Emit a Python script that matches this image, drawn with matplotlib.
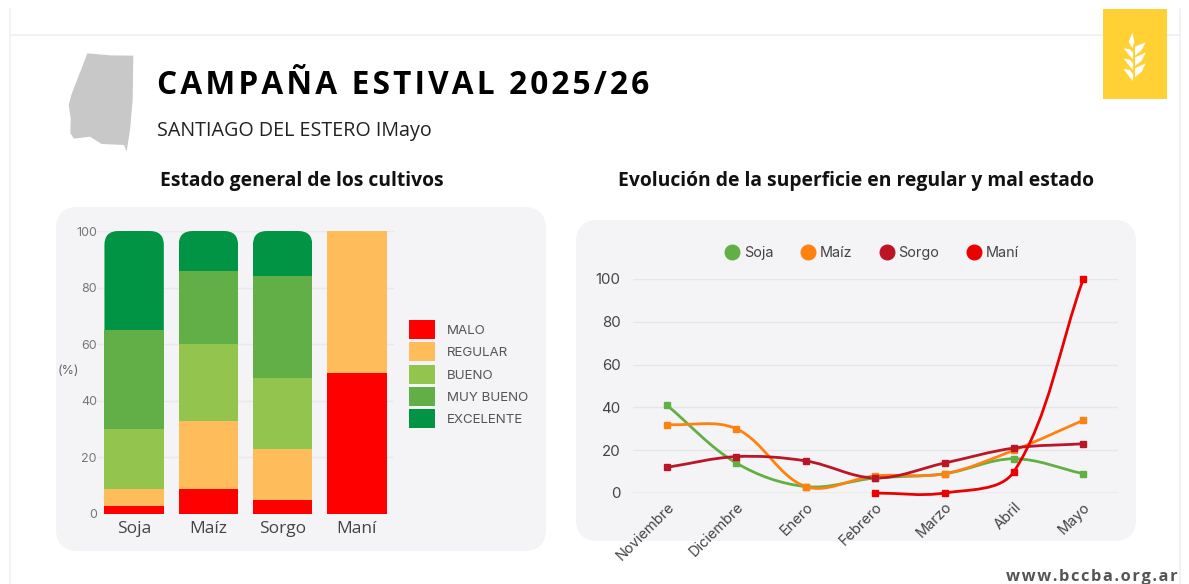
import numpy as np
import matplotlib
matplotlib.use('Agg')
import matplotlib.pyplot as plt
from matplotlib.lines import Line2D
from matplotlib.patches import FancyBboxPatch, Patch, PathPatch, Polygon, Rectangle
from matplotlib.path import Path
from matplotlib.transforms import IdentityTransform

W, H = 1189, 584

# stacked bars
cultivos = ['Soja', 'Maíz', 'Sorgo', 'Maní']
estados = ['MALO', 'REGULAR', 'BUENO', 'MUY BUENO', 'EXCELENTE']
malo = [3, 9, 5, 50]
regular = [6, 24, 18, 50]
bueno = [21, 27, 25, 0]
muy_bueno = [35, 26, 36, 0]
excelente = [35, 14, 16, 0]
colores_estado = ['#ff0000', '#ffbc5b', '#93c44e', '#62af48', '#009444']

# lines
meses = ['Noviembre', 'Diciembre', 'Enero', 'Febrero', 'Marzo', 'Abril', 'Mayo']
soja = [41, 14, 3, 7, 9, 16, 9]
maiz = [32, 30, 3, 8, 9, 20, 34]
sorgo = [12, 17, 15, 7, 14, 21, 23]
mani = [np.nan, np.nan, np.nan, 0, 0, 10, 100]
colores_linea = ['#62b045', '#ff8210', '#bc1626', '#ea0000']

TEXTO = ['Open Sans', 'DejaVu Sans']
EJES = 'Inter'


def pos(l, t, r, b):
    # pixel box to figure fractions
    return [l / W, 1 - b / H, (r - l) / W, (b - t) / H]


def curva(xs, ys, sx, sy, t=0.35):
    # spline through the points, control points weighted by pixel length of each segment
    p = [np.array((x, y)) for x, y in zip(xs, ys) if not np.isnan(y)]
    esc = np.array((sx, sy))
    sal = []
    ent = []
    for i, c in enumerate(p):
        a = p[max(i - 1, 0)]
        b = p[min(i + 1, len(p) - 1)]
        d0 = np.hypot(*((c - a) * esc))
        d1 = np.hypot(*((b - c) * esc))
        ent.append(c - t * d0 / (d0 + d1) * (b - a))
        sal.append(c + t * d1 / (d0 + d1) * (b - a))
    verts = [p[0]]
    codes = [Path.MOVETO]
    for i in range(len(p) - 1):
        verts += [sal[i], ent[i + 1], p[i + 1]]
        codes += [Path.CURVE4] * 3
    return Path(verts, codes)


fig = plt.figure(figsize=(W / 100, H / 100), dpi=100, facecolor='white')

# background layer in pixel coords
bg = fig.add_axes([0, 0, 1, 1], zorder=0)
bg.set_xlim(0, W)
bg.set_ylim(H, 0)
bg.axis('off')

bg.plot([10, 1180], [35, 35], color='#eef0f6', lw=1.2)
bg.plot([10, 10], [9, H], color='#eef0f6', lw=1.2)
bg.plot([1180, 1180], [9, H], color='#eef0f6', lw=1.2)

for l, t, r, b in [(56, 207, 546, 551), (576, 220, 1136, 541)]:
    bg.add_patch(FancyBboxPatch((l + 22, t + 22), r - l - 44, b - t - 44,
                                boxstyle='round,pad=22,rounding_size=22',
                                fc='#f4f4f7', ec='none'))

# province shape
mapa = np.array([(262, 160), (330, 166), (400, 167), (398, 300), (390, 390), (380, 455), (372, 435),
                 (305, 432), (270, 410), (222, 416), (211, 400), (212, 355), (206, 315),
                 (214, 285), (233, 235), (245, 205)]) / 3
bg.add_patch(Polygon(mapa, closed=True, fc='#c8c8c8', ec='none'))

# logo
bg.add_patch(Rectangle((1103, 9), 64, 90, fc='#ffd135', ec='none', zorder=3))
hojas = [[(247, 98), (253, 125), (247, 145), (236, 125)],
         [(255, 140), (287, 127), (275, 150), (255, 167)],
         [(255, 172), (287, 158), (275, 182), (255, 198)],
         [(255, 205), (287, 190), (275, 215), (255, 232)],
         [(248, 178), (221, 145), (240, 148), (250, 160)],
         [(248, 210), (221, 176), (240, 179), (250, 192)],
         [(248, 243), (220, 207), (240, 210), (250, 225)]]
for h in hojas:
    h = np.array(h) / 3 + [1050, 0]
    bg.add_patch(Polygon(h, closed=True, fc='white', ec='none', zorder=4))

HAIR = '\u200a'
bg.text(157, 86, HAIR.join('CAMPAÑA ESTIVAL 2025/26'), family=TEXTO, weight='bold', fontsize=22.75,
        color='black', va='center', ha='left')
bg.text(157, 131, 'SANTIAGO DEL ESTERO IMayo', family=TEXTO, fontsize=14.2,
        color='#222222', va='center', ha='left')
bg.text(301.5, 181, 'Estado general de los cultivos', family=TEXTO, weight='bold', fontsize=13.85,
        color='#111111', va='center', ha='center')
bg.text(856.5, 181, 'Evolución de la superficie en regular y mal estado', family=TEXTO, weight='bold',
        fontsize=13.85, color='#111111', va='center', ha='center')
bg.text(1178, 577, HAIR.join('www.bccba.org.ar'), family=TEXTO, weight='bold', fontsize=11.8,
        color='#555555', va='center', ha='right')
bg.text(68, 371, '(%)', family=EJES, fontsize=9, color='#666666', va='center', ha='center')

# left chart
ax1 = fig.add_axes(pos(97, 231, 394, 514), zorder=1)
ax1.patch.set_alpha(0)
ax1.set_xlim(-0.5, 3.5)
ax1.set_ylim(0, 100)
x = np.arange(len(cultivos))
base = np.zeros(len(cultivos))
for serie, nombre, color in zip([malo, regular, bueno, muy_bueno, excelente], estados, colores_estado):
    barras = ax1.bar(x, serie, width=0.8, bottom=base, color=color, label=nombre, zorder=2)
    base = base + np.array(serie)
    if nombre == 'EXCELENTE':
        # rounded tops, corners in pixels
        for b in barras:
            if b.get_height() == 0:
                continue
            (x0, y0), (x1, y1) = ax1.transData.transform(b.get_bbox().get_points())
            clip = FancyBboxPatch((x0 + 14, y0 - 30), x1 - x0 - 28, y1 - y0 + 30 - 14,
                                  boxstyle='round,pad=14,rounding_size=14',
                                  transform=IdentityTransform())
            b.set_clip_path(clip)
ax1.set_xticks(x, cultivos, family=TEXTO, fontsize=12.5, color='#444444')
ax1.set_yticks(range(0, 101, 20))
ax1.tick_params(axis='y', labelsize=9, labelcolor='#777777', length=0, pad=0)
ax1.tick_params(axis='x', length=0, pad=5)
for lab in ax1.get_yticklabels():
    lab.set_family(EJES)
ax1.grid(axis='y', color='#e9e9ed', lw=1, zorder=0)
ax1.set_axisbelow(True)
for s in ax1.spines.values():
    s.set_visible(False)

ley1 = [Patch(fc=c, ec='none') for c in colores_estado]
ax1.legend(ley1, estados, loc='upper left', bbox_to_anchor=(409 / W, 1 - 320 / H),
           bbox_transform=fig.transFigure, frameon=False, borderpad=0, borderaxespad=0,
           prop={'family': EJES, 'size': 9.6}, labelcolor='#555555', handlelength=1.95,
           handleheight=1.83, labelspacing=0.24, handletextpad=0.9)

# right chart
ax2 = fig.add_axes(pos(633, 279, 1118, 493), zorder=1)
ax2.patch.set_alpha(0)
ax2.set_xlim(-0.49, 6.5)
ax2.set_ylim(0, 100)
xm = np.arange(len(meses))
nombres = ['Soja', 'Maíz', 'Sorgo', 'Maní']
for serie, color in zip([soja, maiz, sorgo, mani], colores_linea):
    ax2.add_patch(PathPatch(curva(xm, serie, 69.4, 2.14), fc='none', ec=color, lw=2, zorder=3,
                            clip_on=False))
    ax2.plot(xm, serie, ls='none', marker='s', ms=4, color=color, zorder=4, clip_on=False)
ax2.set_xticks(xm, meses, family=EJES, fontsize=10.5, color='#444444', rotation=45,
               ha='right', rotation_mode='anchor')
ax2.set_yticks(range(0, 101, 20))
ax2.tick_params(axis='y', labelsize=10.8, labelcolor='#444444', length=0, pad=9)
ax2.tick_params(axis='x', length=0, pad=5)
for lab in ax2.get_yticklabels():
    lab.set_family(EJES)
ax2.grid(axis='y', color='#e6e6ea', lw=1, zorder=0)
ax2.set_axisbelow(True)
for s in ax2.spines.values():
    s.set_visible(False)
ax2.axhline(0, color='#cfcfd4', lw=1, zorder=1)

ley2 = [Line2D([], [], ls='none', marker='o', ms=10.5, color=c) for c in colores_linea]
ax2.legend(ley2, nombres, loc='center', bbox_to_anchor=(872 / W, 1 - 253 / H),
           bbox_transform=fig.transFigure, frameon=False, ncol=4, borderpad=0, borderaxespad=0,
           prop={'family': EJES, 'size': 10.4}, labelcolor='#444444', handlelength=1,
           handletextpad=0.3, columnspacing=1.9)

fig.savefig('out.png', dpi=100)
